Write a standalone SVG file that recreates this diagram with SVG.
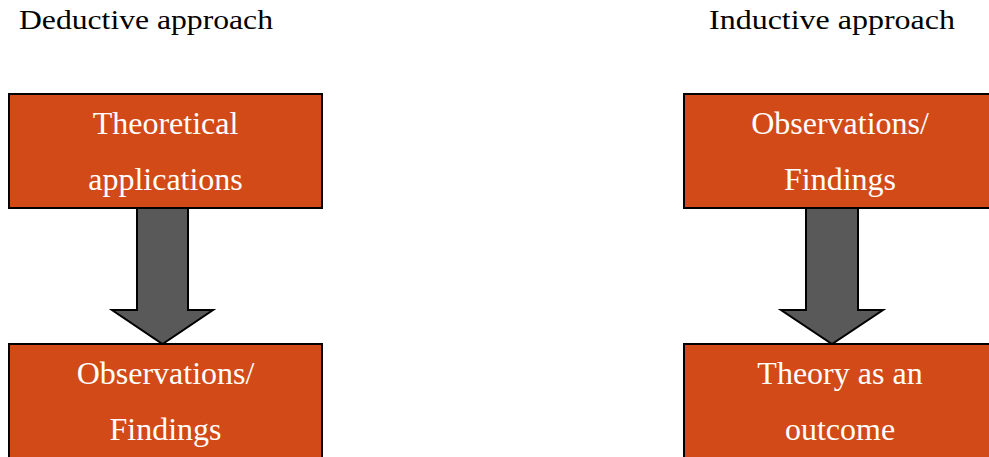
<svg xmlns="http://www.w3.org/2000/svg" width="989" height="457" viewBox="0 0 989 457">
<style>
.title{font-size:27px;fill:#000}
.box{fill:#D24A18;stroke:#000;stroke-width:2}
.lbl{font-size:32px;fill:#fff;text-anchor:middle}
.arr{fill:#595959;stroke:#000;stroke-width:2;stroke-linejoin:miter}
</style>
<rect width="989" height="457" fill="#fff"/>
<g font-family="Liberation Serif, serif">
<text class="title" x="19" y="29" textLength="254" lengthAdjust="spacingAndGlyphs">Deductive approach</text>
<text class="title" x="709" y="29" textLength="246" lengthAdjust="spacingAndGlyphs">Inductive approach</text>
<g id="connectors">
<polygon class="arr" points="137,208 188,208 188,310 213,310 162.5,344 112,310 137,310"/>
<polygon class="arr" points="806,208 858,208 858,310 883,310 832,344 781,310 806,310"/>
</g>
<g id="theoretical">
<rect class="box" x="9" y="94" width="313" height="114"/>
<text class="lbl" x="165.5" y="134">Theoretical</text>
<text class="lbl" x="165.5" y="190">applications</text>
</g>
<g id="observations-left">
<rect class="box" x="9" y="344" width="313" height="130"/>
<text class="lbl" x="165.5" y="384">Observations/</text>
<text class="lbl" x="165.5" y="440">Findings</text>
</g>
<g id="observations-right">
<rect class="box" x="684" y="94" width="313" height="114"/>
<text class="lbl" x="840" y="134">Observations/</text>
<text class="lbl" x="840" y="190">Findings</text>
</g>
<g id="theory">
<rect class="box" x="684" y="344" width="313" height="130"/>
<text class="lbl" x="840" y="384">Theory as an</text>
<text class="lbl" x="840" y="440">outcome</text>
</g>
</g>
</svg>
